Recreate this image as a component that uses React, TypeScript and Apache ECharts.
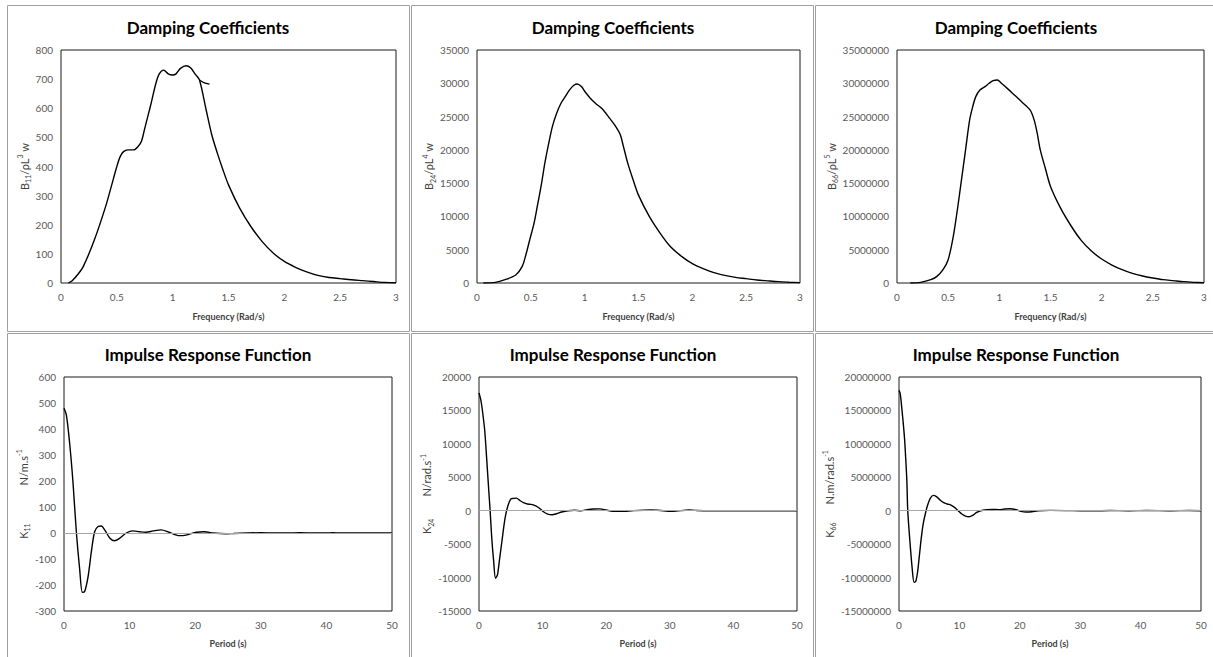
import React, { useEffect, useRef } from "react";
import * as echarts from "echarts";

// ---------- data ----------
const freqB11 = [0.066, 0.1, 0.15, 0.2, 0.3, 0.4, 0.45, 0.5, 0.53, 0.56, 0.6, 0.65, 0.69, 0.72, 0.75, 0.8, 0.85, 0.88, 0.92, 0.96, 1.0, 1.03, 1.07, 1.12, 1.16, 1.2, 1.24, 1.3, 1.35, 1.4, 1.45, 1.5, 1.6, 1.7, 1.8, 1.9, 2.0, 2.1, 2.2, 2.3, 2.4, 2.5, 2.6, 2.7, 2.8, 2.9, 3.0];
const valB11 = [0, 8, 29, 57, 149, 263, 331, 400, 434, 451, 457, 457, 469, 486, 531, 606, 686, 718, 731, 718, 714, 718, 737, 746, 739, 718, 697, 594, 509, 446, 389, 337, 257, 194, 143, 103, 74, 54, 38, 26, 19, 15, 11, 8, 5, 2, 1];
const freqB11Branch = [1.24, 1.28, 1.33];
const valB11Branch = [697, 688, 683];

const freqB24 = [0.06, 0.17, 0.26, 0.36, 0.42, 0.45, 0.49, 0.53, 0.56, 0.6, 0.63, 0.66, 0.7, 0.74, 0.78, 0.82, 0.86, 0.9, 0.93, 0.97, 1.0, 1.05, 1.1, 1.16, 1.22, 1.28, 1.33, 1.36, 1.4, 1.45, 1.5, 1.6, 1.7, 1.8, 1.9, 2.0, 2.1, 2.2, 2.3, 2.4, 2.5, 2.6, 2.7, 2.8, 2.9, 3.0];
const valB24 = [0, 100, 500, 1200, 2500, 4000, 6500, 9000, 11500, 15000, 18000, 20500, 23500, 25500, 27000, 28000, 29000, 29700, 29900, 29500, 28800, 27800, 27000, 26200, 25000, 23700, 22300, 20500, 18000, 15500, 13200, 10000, 7500, 5400, 4000, 2900, 2150, 1550, 1150, 850, 650, 450, 320, 200, 120, 50];

const freqB66 = [0.13, 0.23, 0.33, 0.39, 0.45, 0.5, 0.55, 0.59, 0.63, 0.67, 0.71, 0.74, 0.77, 0.81, 0.86, 0.9, 0.94, 0.98, 1.02, 1.08, 1.15, 1.22, 1.3, 1.34, 1.37, 1.4, 1.45, 1.5, 1.6, 1.7, 1.8, 1.9, 2.0, 2.1, 2.2, 2.3, 2.4, 2.5, 2.6, 2.7, 2.8, 2.9, 3.0];
const valB66 = [0, 100000, 500000, 1000000, 2000000, 3500000, 7000000, 11000000, 15500000, 20000000, 24500000, 26500000, 28000000, 29000000, 29500000, 30000000, 30400000, 30500000, 30000000, 29200000, 28200000, 27200000, 26000000, 24500000, 22500000, 20000000, 17200000, 14500000, 11200000, 8600000, 6400000, 4800000, 3600000, 2700000, 2000000, 1450000, 1050000, 750000, 500000, 350000, 200000, 100000, 30000];

const tK11 = [0, 0.36, 0.86, 1.37, 1.88, 2.39, 2.8, 3.15, 3.66, 4.17, 4.67, 5.2, 5.7, 6.2, 7.0, 7.7, 8.5, 9.5, 10.5, 11.5, 12.5, 13.6, 14.8, 16.0, 17.6, 18.6, 20.2, 21.4, 22.7, 24.7, 25.8, 28, 30, 32, 34, 36, 38, 40, 41, 42, 45, 50];
const valK11 = [480, 454, 345, 195, 5, -140, -228, -225, -170, -72, 5, 25, 27, 12, -20, -30, -20, 0, 8, 5, 3, 8, 12, 3, -10, -8, 3, 5, 0, -3, -2, 0, 1, 0, 0, 1, 0, 0, 1, 0, 0, 0];

const tK24 = [0, 0.3, 0.6, 0.9, 1.2, 1.5, 1.75, 2.0, 2.3, 2.6, 2.9, 3.2, 3.6, 4.1, 4.6, 5.1, 5.9, 6.4, 7.0, 7.6, 8.2, 9.0, 9.6, 10.2, 10.8, 11.5, 12.2, 13, 14, 15, 16, 17, 18, 19, 20, 21, 22, 23, 24, 27, 29, 30, 31, 33, 34, 36, 40, 50];
const valK24 = [17600, 16500, 14500, 12000, 7900, 3500, 0, -4000, -7500, -10100, -9600, -7500, -4600, -1100, 900, 1800, 1880, 1550, 1200, 1000, 950, 700, 300, -200, -500, -600, -450, -200, 0, 80, 0, 150, 250, 280, 100, -80, -100, -80, 0, 100, 0, -80, -50, 100, 50, 0, 0, 0];

const tK66 = [0, 0.2, 0.5, 0.9, 1.1, 1.3, 1.45, 1.8, 2.2, 2.5, 2.8, 3.1, 3.4, 3.7, 4.0, 4.4, 4.8, 5.2, 5.7, 6.2, 6.8, 7.4, 8.0, 8.6, 9.2, 9.8, 10.4, 11.0, 11.6, 12.2, 12.8, 13.5, 14.5, 15.5, 16.5, 17.5, 18.4, 19.4, 20.2, 21, 22, 23, 25, 30, 32, 35, 38, 41, 45, 48, 50];
const valK66 = [18000000, 17500000, 15000000, 11000000, 8000000, 4500000, 0, -4500000, -8800000, -10700000, -10500000, -9000000, -6500000, -4000000, -2000000, -300000, 1000000, 1900000, 2300000, 2100000, 1600000, 1200000, 1000000, 850000, 500000, 0, -500000, -800000, -900000, -700000, -300000, 0, 150000, 200000, 150000, 250000, 300000, 150000, -100000, -200000, -150000, 0, 50000, 0, -30000, 30000, 0, 40000, 0, 30000, 0];

const titleTop = "Damping Coefficients";
const titleBottom = "Impulse Response Function";
const xNameTop = "Frequency (Rad/s)";
const xNameBottom = "Period (s)";

// ---------- layout ----------
const grids = [
  { left: 61, top: 50, width: 335, height: 233 },
  { left: 477, top: 50, width: 323, height: 233 },
  { left: 897, top: 50, width: 307, height: 233 },
  { left: 64, top: 377, width: 328, height: 234 },
  { left: 479, top: 377, width: 318, height: 234 },
  { left: 899, top: 377, width: 302, height: 234 },
];

const yNames = [
  "{b|B}{sub|11}{b|/ρL}{sup|3}{b| w}",
  "{b|B}{sub|24}{b|/ρL}{sup|4}{b| w}",
  "{b|B}{sub|66}{b|/ρL}{sup|5}{b| w}",
  "{b|K}{sub|11}{g1|}{b|N/m.s}{sup|-1}",
  "{b|K}{sub|24}{g2|}{b|N/rad.s}{sup|-1}",
  "{b|K}{sub|66}{g3|}{b|N.m/rad.s}{sup|-1}",
];
const yNameGaps = [28, 39, 56, 30, 41, 58];
const yRanges = [
  [0, 800, 100],
  [0, 35000, 5000],
  [0, 35000000, 5000000],
  [-300, 600, 100],
  [-15000, 20000, 5000],
  [-15000000, 20000000, 5000000],
];

const pairs = (xs: number[], ys: number[]) => xs.map((x, i) => [x, ys[i]]);

const TXT = "#595959";
const FONT = "Lato, 'Open Sans', sans-serif";

export default function App() {
  const ref = useRef<HTMLDivElement>(null);
  useEffect(() => {
    if (!ref.current) return;
    const chart = echarts.init(ref.current, undefined, { renderer: "svg" });

    const rich = {
      b: { fontSize: 11, color: "#404040", fontFamily: FONT, lineHeight: 15, verticalAlign: "middle" },
      sub: { fontSize: 7, color: "#404040", fontFamily: FONT, verticalAlign: "bottom", lineHeight: 15 },
      sup: { fontSize: 7, color: "#404040", fontFamily: FONT, verticalAlign: "top", lineHeight: 15 },
      g1: { width: 38 },
      g2: { width: 22 },
      g3: { width: 18 },
    };

    const xAxis = grids.map((_, i) => {
      const top = i < 3;
      return {
        type: "value",
        gridIndex: i,
        min: 0,
        max: top ? 3 : 50,
        interval: top ? 0.5 : 10,
        axisLine: { show: false },
        axisTick: { show: false },
        splitLine: { show: false },
        axisLabel: { color: TXT, fontSize: 10, fontFamily: FONT, margin: 9, formatter: (v: number) => String(v) },
        name: top ? xNameTop : xNameBottom,
        nameLocation: "middle",
        nameGap: top ? 29 : 28,
        nameTextStyle: { fontWeight: "bold", fontSize: 9, color: "#404040", fontFamily: FONT },
      };
    });

    const yAxis = grids.map((_, i) => ({
      type: "value",
      gridIndex: i,
      min: yRanges[i][0],
      max: yRanges[i][1],
      interval: yRanges[i][2],
      axisLine: { show: false },
      axisTick: { show: false },
      splitLine: { show: false },
      axisLabel: { color: TXT, fontSize: 10, fontFamily: FONT, margin: 8, formatter: (v: number) => String(v) },
      name: yNames[i],
      nameLocation: "middle",
      nameRotate: 90,
      nameGap: yNameGaps[i],
      nameTextStyle: { rich },
    }));

    const line = (i: number, data: number[][]) => ({
      type: "line",
      xAxisIndex: i,
      yAxisIndex: i,
      data,
      symbol: "none",
      smooth: 0.3,
      lineStyle: { color: "#000", width: 1.4 },
      z: 3,
    });
    const zeroLine = {
      silent: true,
      symbol: ["none", "none"],
      label: { show: false },
      lineStyle: { color: "#a6a6a6", width: 1, type: "solid" },
      data: [{ yAxis: 0 }],
    };

    const series: any[] = [
      line(0, pairs(freqB11, valB11)),
      line(0, pairs(freqB11Branch, valB11Branch)),
      line(1, pairs(freqB24, valB24)),
      line(2, pairs(freqB66, valB66)),
      { ...line(3, pairs(tK11, valK11)), markLine: zeroLine },
      { ...line(4, pairs(tK24, valK24)), markLine: zeroLine },
      { ...line(5, pairs(tK66, valK66)), markLine: zeroLine },
    ];

    const frames: any[] = [];
    const cols = [[7, 409], [411, 813], [815, 1217]];
    const rows = [[5, 331], [333, 662]];
    rows.forEach((r) =>
      cols.forEach((c) =>
        frames.push({
          type: "rect",
          shape: { x: c[0] + 0.5, y: r[0] + 0.5, width: c[1] - c[0], height: r[1] - r[0] },
          style: { fill: "none", stroke: "#a0a0a0", lineWidth: 1 },
          silent: true,
          z: 0,
        })
      )
    );
    const titleX = [208, 613, 1016];
    const titles: any[] = [];
    titleX.forEach((x) => {
      titles.push({
        type: "text",
        x,
        y: 27,
        style: { text: titleTop, align: "center", verticalAlign: "middle", font: `bold 17px ${FONT}`, fill: "#000" },
      });
      titles.push({
        type: "text",
        x,
        y: 354,
        style: { text: titleBottom, align: "center", verticalAlign: "middle", font: `bold 17px ${FONT}`, fill: "#000" },
      });
    });

    chart.setOption({
      animation: false,
      backgroundColor: "#fff",
      grid: grids.map((g) => ({ ...g, show: true, borderColor: "#1a1a1a", borderWidth: 1, backgroundColor: "transparent" })),
      xAxis,
      yAxis,
      series,
      graphic: [...frames, ...titles],
    });
    return () => chart.dispose();
  }, []);
  return <div ref={ref} style={{ position: "absolute", left: 0, top: 0, width: 1213, height: 657 }} />;
}
